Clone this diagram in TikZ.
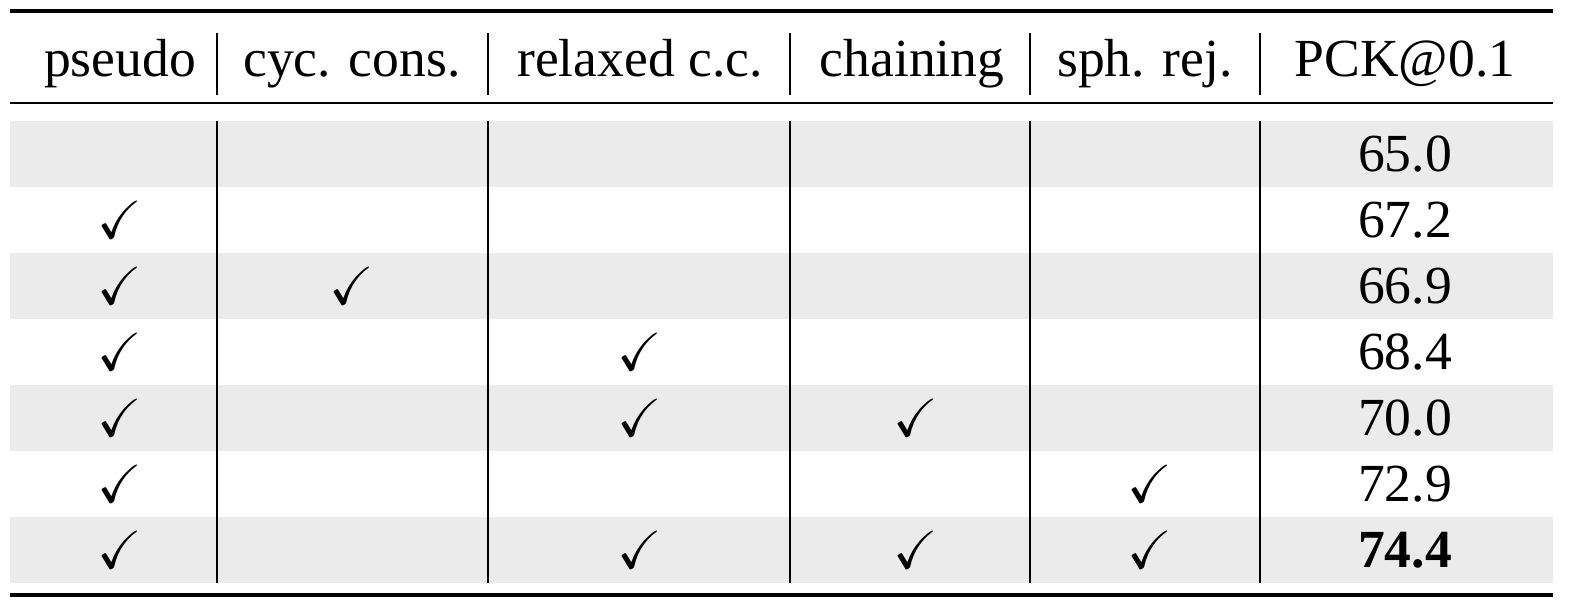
\documentclass[tikz,border=0pt]{standalone}
\usepackage{amssymb}
\usepackage{fontspec}
\setmainfont{Liberation Serif}
\definecolor{rowgray}{HTML}{EBEBEB}
\tikzset{cell/.style={inner sep=0pt, font=\fontsize{30.5}{36}\selectfont},
  headcell/.style={cell, anchor=base},
  rulethick/.style={line width=2.4pt}, rulethin/.style={line width=1.1pt},
  sep/.style={line width=0.9pt}}
\begin{document}
\begin{tikzpicture}[x=0.02cm,y=-0.02cm]
            \useasboundingbox (0,0) rectangle (1573,613);
            % gray bands
            \foreach \t in {121,253,385,517}
                \fill[rowgray] (10,\t) rectangle (1553,\t+66);
            % header
            \node[headcell] (h1) at(120,76) {pseudo};
            \node[headcell] (h2) at(352,76) {cyc. cons.};
            \node[headcell] (h3) at(640,76) {relaxed c.c.};
            \node[headcell] (h4) at(912,76) {chaining};
            \node[headcell] (h5) at(1145,76) {sph. rej.};
            \node[headcell] (h6) at(1405,76) {PCK@0.1};
            % rules
            \draw[rulethick] (10,11) -- (1553,11);
            \draw[rulethin] (10,103) -- (1553,103);
            \draw[rulethick] (10,595) -- (1553,595);
            \foreach \x in {217,488,790,1030,1260} {
                \draw[sep] (\x,33) -- (\x,95);
                \draw[sep] (\x,121) -- (\x,583);
            }
            % scores
            \foreach \v [count=\i] in {65.0,67.2,66.9,68.4,70.0,72.9}
                \node[cell] (s\i) at(1405,154+66*\i-66) {\v};
            \node[cell, font=\fontsize{30.5}{36}\selectfont\bfseries] (s7) at(1405,550) {74.4};
            % check marks
            \foreach \c/\r in {1/2,1/3,1/4,1/5,1/6,1/7,2/3,3/4,3/5,3/7,4/5,4/7,5/6,5/7} {
                \pgfmathsetmacro{\xx}{{0,120,352,640,916,1150}[\c]}
                \node[cell] (c\c\r) at(\xx,154+66*\r-66) {$\checkmark$};
            }
        \end{tikzpicture}
\end{document}
